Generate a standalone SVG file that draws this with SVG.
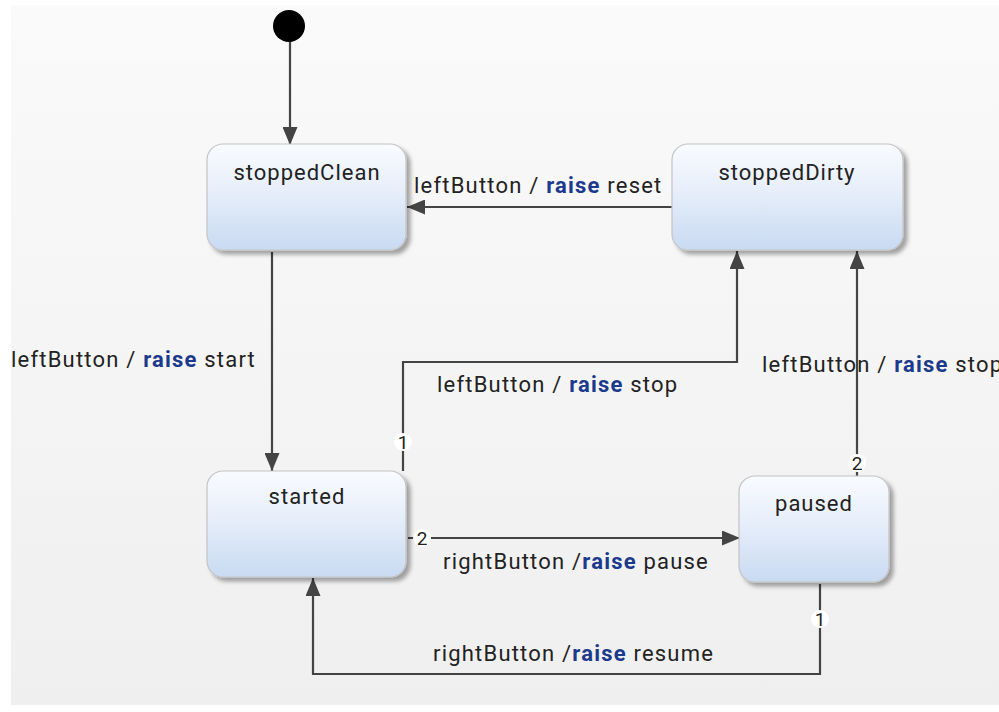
<svg xmlns="http://www.w3.org/2000/svg" width="999" height="712" viewBox="0 0 999 712">
  <defs>
    <linearGradient id="bg" x1="0" y1="0" x2="0" y2="1">
      <stop offset="0" stop-color="#fafafa"/>
      <stop offset="1" stop-color="#efefef"/>
    </linearGradient>
    <linearGradient id="stateFill" x1="0" y1="0" x2="0" y2="1">
      <stop offset="0" stop-color="#f9fbff"/>
      <stop offset="0.45" stop-color="#e6eefa"/>
      <stop offset="1" stop-color="#c9daf2"/>
    </linearGradient>
    <filter id="shadow" x="-10%" y="-10%" width="130%" height="130%">
      <feGaussianBlur in="SourceAlpha" stdDeviation="2"/>
      <feOffset dx="4" dy="4" result="b"/>
      <feComponentTransfer><feFuncA type="linear" slope="0.35"/></feComponentTransfer>
      <feMerge><feMergeNode/><feMergeNode in="SourceGraphic"/></feMerge>
    </filter>
    <marker id="arrow" viewBox="0 0 18 15" refX="18" refY="7.5" markerWidth="18" markerHeight="15" markerUnits="userSpaceOnUse" orient="auto">
      <path d="M0,0 L18,7.5 L0,15 Z" fill="#444"/>
    </marker>
  </defs>
  <style>
    .state { fill: url(#stateFill); stroke: #c4c4c4; stroke-width: 1.2; filter: url(#shadow); }
    .name { font-family: Roboto, "Liberation Sans", sans-serif; font-size: 22px; letter-spacing: 1px; fill: #222; text-anchor: middle; }
    .edge { fill: none; stroke: #444; stroke-width: 2.2; marker-end: url(#arrow); }
    .lbl { font-family: Roboto, "Liberation Sans", sans-serif; font-size: 22px; letter-spacing: 1.2px; fill: #222; }
    .kw { font-weight: bold; fill: #1c3a8c; }
    .badge { fill: #ffffff; }
    .num { font-family: Roboto, "Liberation Sans", sans-serif; font-size: 19px; fill: #222; text-anchor: middle; }
  </style>

  <rect x="11" y="5" width="988" height="700" fill="url(#bg)"/>

  <!-- transitions -->
  <g id="connectors">
    <line class="edge" x1="290" y1="40" x2="290" y2="145"/>
    <line class="edge" x1="272" y1="252" x2="272" y2="471"/>
    <line class="edge" x1="672" y1="207" x2="407" y2="207"/>
    <polyline class="edge" points="403,471 403,362 737,362 737,251"/>
    <line class="edge" x1="857" y1="476" x2="857" y2="251"/>
    <line class="edge" x1="408" y1="538" x2="740" y2="538"/>
    <polyline class="edge" points="820,584 820,674 313,674 313,578"/>

    <text class="lbl" x="11" y="367">leftButton / <tspan class="kw">raise</tspan> start</text>
    <text class="lbl" x="414" y="193">leftButton / <tspan class="kw">raise</tspan> reset</text>
    <text class="lbl" x="437" y="392">leftButton / <tspan class="kw">raise</tspan> stop</text>
    <text class="lbl" x="762" y="372">leftButton / <tspan class="kw">raise</tspan> stop</text>
    <text class="lbl" x="443" y="569">rightButton /<tspan class="kw">raise</tspan> pause</text>
    <text class="lbl" x="433" y="661">rightButton /<tspan class="kw">raise</tspan> resume</text>

    <circle class="badge" cx="403" cy="442" r="9"/>
    <text class="num" x="403" y="449">1</text>
    <circle class="badge" cx="422" cy="538" r="9"/>
    <text class="num" x="422" y="545">2</text>
    <circle class="badge" cx="857" cy="463" r="9"/>
    <text class="num" x="857" y="470">2</text>
    <circle class="badge" cx="820" cy="619" r="9"/>
    <text class="num" x="820" y="626">1</text>
  </g>

  <!-- initial pseudo-state -->
  <g id="initial">
    <circle cx="289" cy="26" r="16" fill="#000"/>
  </g>

  <!-- states -->
  <g id="stoppedClean">
    <rect class="state" x="207" y="144" width="199" height="106" rx="16"/>
    <text class="name" x="307" y="180">stoppedClean</text>
  </g>
  <g id="stoppedDirty">
    <rect class="state" x="672" y="144" width="231" height="106" rx="16"/>
    <text class="name" x="787" y="180">stoppedDirty</text>
  </g>
  <g id="started">
    <rect class="state" x="207" y="471" width="199" height="106" rx="16"/>
    <text class="name" x="307" y="504">started</text>
  </g>
  <g id="paused">
    <rect class="state" x="739" y="476" width="150" height="106" rx="16"/>
    <text class="name" x="814" y="511">paused</text>
  </g>
</svg>
